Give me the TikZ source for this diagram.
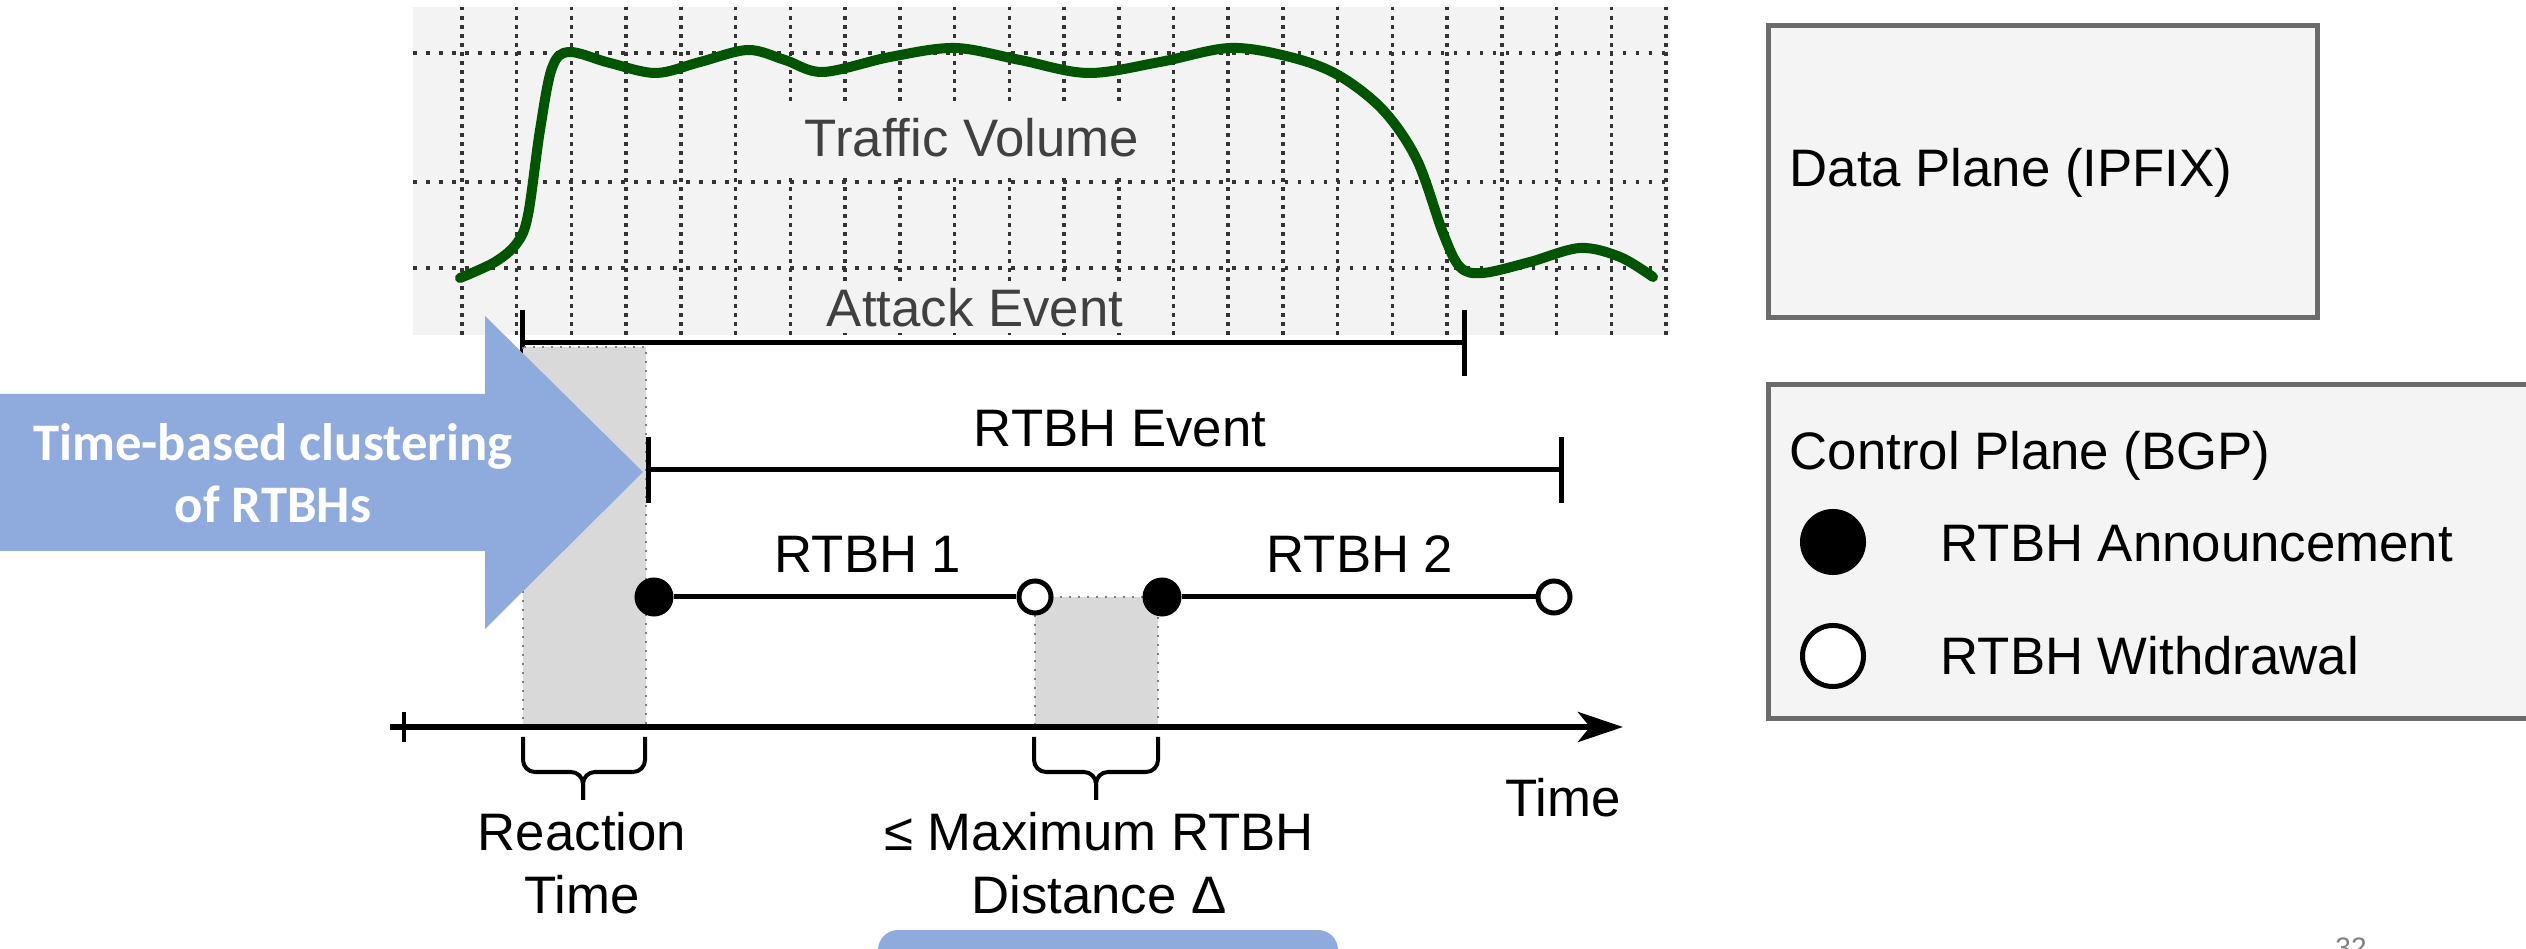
\documentclass[tikz,border=0pt]{standalone}
\usepackage{fontspec}
\setmainfont{Liberation Sans}
\newfontfamily\calibfont{Carlito}
\usepackage{tikz}
\usetikzlibrary{arrows.meta,positioning}
\definecolor{gridbg}{HTML}{F3F3F3}
\definecolor{griddot}{HTML}{333333}
\definecolor{trafgreen}{HTML}{005500}
\definecolor{arrblue}{HTML}{8FAADC}
\definecolor{gapgray}{HTML}{D9D9D9}
\definecolor{boxgray}{HTML}{6B6B6B}
\definecolor{boxfill}{HTML}{F4F4F4}
\tikzset{
  lbl/.style = {inner sep=0pt, font=\fontsize{15}{17.9}\selectfont},
  lbl_c/.style = {lbl, align=center, anchor=base},% centred label, base = last line
  lbl_l/.style = {lbl, anchor=base west},% legend label
  dot_a/.style = {circle, fill=black, inner sep=0pt,
    minimum size=3.9mm},% announcement
  dot_w/.style = {circle, draw=black, fill=white, line width=0.5mm,
    inner sep=0pt, minimum size=3.2mm},% withdrawal
  ev_bar/.style = {line width=0.5mm, {Bar[width=6.6mm]}-{Bar[width=6.6mm]}},
  gap/.style = {fill=gapgray, draw=gray, dotted, line width=0.2mm},
  brc/.style = {line width=0.4mm, rounded corners=1.2mm},
  plane/.style = {draw=boxgray, fill=boxfill, line width=0.5mm,
    anchor=north west, inner sep=0pt},
  gridln/.style = {griddot, line width=0.35mm, dash pattern=on 0.35mm off 0.55mm}
}
\begin{document}
\begin{tikzpicture}[x=0.01cm, y=-0.01cm]
        \useasboundingbox (0,0) rectangle (2526,949);
        \clip (0,0) rectangle (2526,949);
        % traffic chart
        \fill[gridbg] (413,7) rectangle (1670,335);
        \foreach \k in {0,...,22}
            \draw[gridln] ({462+54.73*\k},7) -- ({462+54.73*\k},335);
        \foreach \yy in {53,182,268}
            \draw[gridln, dash pattern=on 0.35mm off 0.95mm] (413,\yy) -- (1670,\yy);
        \node[lbl_c, fill=gridbg, inner xsep=2mm, inner ysep=1.5mm,
            text=darkgray] (traffic) at (972,157) {Traffic Volume};
        \draw[trafgreen, line width=1mm, line cap=round, line join=round]
            plot[smooth, tension=0.55] coordinates {
            (460,278) (495,262) (517,243) (528,215) (540,130) (552,68)
            (569,52) (610,63) (656,73) (700,62) (748,50) (785,60) (823,72)
            (890,57) (955,48) (1020,60) (1088,73) (1160,62) (1230,48)
            (1290,57) (1338,75) (1383,110) (1417,160) (1443,233) (1460,267)
            (1483,273) (1530,262) (1580,248) (1620,257) (1653,277)};
        \node[lbl_c, fill=gridbg, inner xsep=2mm, inner ysep=0.5mm,
            text=darkgray] (attack) at (975,327) {Attack Event};
        \coordinate (ae_s) at (520,343);
        \coordinate (ae_e) at (1467,343);
        \draw[ev_bar] (ae_s) -- (ae_e);

        % reaction time and distance
        \draw[gap] (523,347) rectangle (646,727);
        \draw[gap] (1035,597) rectangle (1158,727);

        \fill[arrblue] (0,394) -- (485,394) -- (485,316) -- (643,472)
            -- (485,629) -- (485,551) -- (0,551) -- cycle;
        \node[font=\calibfont\bfseries\fontsize{15}{17.9}\selectfont,
            text=white, align=center, anchor=base, inner sep=0pt]
            (clust) at (273,523) {Time-based clustering\\of RTBHs};

        \coordinate (ev_s) at (646,470);
        \coordinate (ev_e) at (1564,470);
        \draw[ev_bar] (ev_s) -- (ev_e);
        \node[lbl_c] (rtbhev) at (1120,447) {RTBH Event};

        \node[dot_a] (a1) at (654,597) {};
        \node[dot_w] (w1) at (1035,597) {};
        \node[dot_a] (a2) at (1162,597) {};
        \node[dot_w] (w2) at (1554,597) {};
        \draw[line width=0.5mm] (a1) -- (w1);
        \draw[line width=0.5mm] (a2) -- (w2);
        \node[lbl_c] (r1) at (868,573) {RTBH 1};
        \node[lbl_c] (r2) at (1360,573) {RTBH 2};

        % time axis
        \coordinate (t0) at (390,727);
        \coordinate (t1) at (1623,727);
        \draw[line width=0.6mm, -{Stealth[length=4.5mm,width=3mm,inset=1.2mm]}]
            (t0) -- (t1);
        \draw[line width=0.4mm] (404,712) -- (404,742);
        \node[lbl_c] (time) at (1563,817) {Time};

        \draw[brc] (523,737) -- (523,772) -- (583,772) -- (583,800);
        \draw[brc] (645,737) -- (645,772) -- (583,772) -- (583,800);
        \draw[brc] (1034,737) -- (1034,772) -- (1096,772) -- (1096,800);
        \draw[brc] (1158,737) -- (1158,772) -- (1096,772) -- (1096,800);
        \node[lbl_c] (react) at (582,913) {Reaction\\Time};
        \node[lbl_c] (maxd) at (1099,913) {≤ Maximum RTBH\\Distance Δ};

        \fill[arrblue, rounded corners=2mm] (878,930) rectangle (1338,1000);

        % legend
        \node[plane, minimum width=5.49cm, minimum height=2.92cm] (dp) at (1766,23) {};
        \node[lbl_l] (dptxt) at (1789,187) {Data Plane (IPFIX)};
        \node[plane, minimum width=8cm, minimum height=3.34cm] (cp) at (1766,382) {};
        \node[lbl_l] (cptxt) at (1789,470) {Control Plane (BGP)};
        \node[dot_a, minimum size=6.6mm] (lga) at (1833,542) {};
        \node[dot_w, minimum size=6.1mm] (lgw) at (1833,656) {};
        \node[lbl_l] (lgat) at (1940,562) {RTBH Announcement};
        \node[lbl_l] (lgwt) at (1940,675) {RTBH Withdrawal};

        \node[text=gray, font=\fontsize{8}{9}\selectfont, anchor=base,
            inner sep=0pt] (pgno) at (2351,957) {32};
\end{tikzpicture}
\end{document}
